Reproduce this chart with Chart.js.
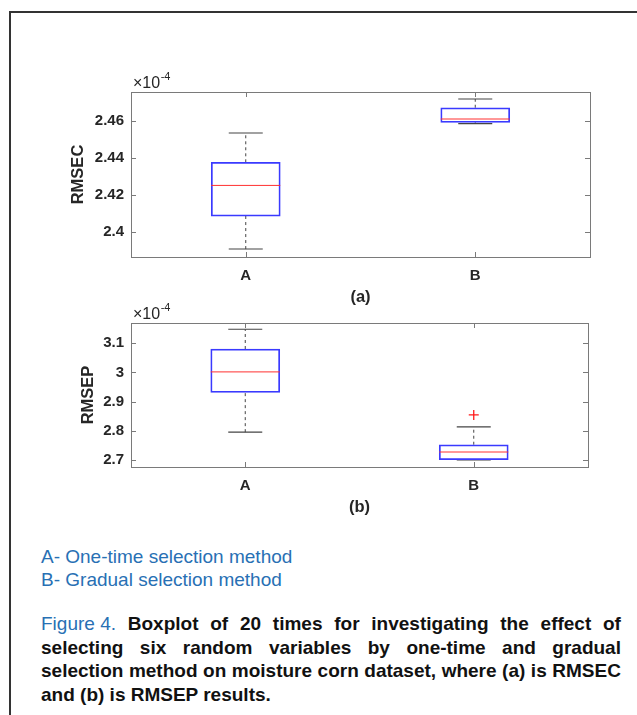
<!DOCTYPE html>
<html>
<head>
<meta charset="utf-8">
<script src="https://cdn.jsdelivr.net/npm/chart.js@4.4.1/dist/chart.umd.min.js"></script>
<style>
  html, body { margin: 0; padding: 0; background: #fff; width: 637px; height: 715px; overflow: hidden;
    font-family: "Liberation Sans", Arial, sans-serif; }
  #frame { position: absolute; left: 9px; top: 11px; width: 700px; height: 800px;
    border-left: 2px solid #333; border-top: 2px solid #333; }
  .wrap { position: absolute; left: 0; width: 637px; }
  #wa { top: 60px; height: 250px; }
  #wb { top: 300px; height: 225px; }
  .line { position: absolute; left: 41px; font-size: 19px; line-height: 23.3px; white-space: nowrap; }
  .legend { color: #2870b4; }
  .cap { width: 580px; display: flex; justify-content: space-between; font-weight: bold; color: #111; }
  .cap .fig { color: #2870b4; font-weight: normal; }
</style>
</head>
<body>
<div id="frame"></div>
<div class="wrap" id="wa"><canvas id="chartA"></canvas></div>
<div class="wrap" id="wb"><canvas id="chartB"></canvas></div>

<div class="line legend" style="top:545px">A- One-time selection method</div>
<div class="line legend" style="top:568px">B- Gradual selection method</div>
<div id="caption"></div>

<script>
// Methods compared
const categories = ['A', 'B'];

// RMSEC box statistics (units of 10^-4)
const rmsecLow  = [2.3908, 2.4586];
const rmsecQ1   = [2.4086, 2.4593];
const rmsecMed  = [2.4252, 2.4611];
const rmsecQ3   = [2.4377, 2.4672];
const rmsecHigh = [2.4535, 2.4719];
const rmsecOutliers = [];
const rmsecTicks = [2.40, 2.42, 2.44, 2.46];

// RMSEP box statistics (units of 10^-4)
const rmsepLow  = [2.7955, 2.7005];
const rmsepQ1   = [2.9320, 2.7010];
const rmsepMed  = [3.0020, 2.7274];
const rmsepQ3   = [3.0805, 2.7524];
const rmsepHigh = [3.1480, 2.8137];
const rmsepOutliers = [{ x: 'B', y: 2.8545 }];
const rmsepTicks = [2.7, 2.8, 2.9, 3.0, 3.1];

const EXPONENT = '-4';

const captionLines = [
  ['Figure 4.', 'Boxplot', 'of', '20', 'times', 'for', 'investigating', 'the', 'effect', 'of'],
  ['selecting', 'six', 'random', 'variables', 'by', 'one-time', 'and', 'gradual'],
  ['selection', 'method', 'on', 'moisture', 'corn', 'dataset,', 'where', '(a)', 'is', 'RMSEC'],
  ['and (b) is RMSEP results.']
];

// Caption: each line justified to the same width
const capTops = [612, 635.5, 659, 682.5];
const capHost = document.getElementById('caption');
captionLines.forEach((words, li) => {
  const div = document.createElement('div');
  div.className = 'line' + (li < 3 ? ' cap' : '');
  div.style.top = capTops[li] + 'px';
  if (li < 3) {
    words.forEach(w => {
      const s = document.createElement('span');
      s.textContent = w;
      if (w === 'Figure 4.') s.className = 'fig';
      div.appendChild(s);
    });
  } else {
    div.style.fontWeight = 'bold';
    div.style.color = '#111';
    div.textContent = words[0];
  }
  capHost.appendChild(div);
});

const FONT = '"Liberation Sans", Arial, sans-serif';
const AXIS_COLOR = '#7a7a7a';
const TEXT_COLOR = '#262626';

// Axis box with inward tick marks and the exponent label above the y axis
const matlabAxes = {
  id: 'matlabAxes',
  afterDraw(chart) {
    const { ctx, chartArea: a, scales: { x, y } } = chart;
    const L = 5;
    ctx.save();
    ctx.strokeStyle = AXIS_COLOR;
    ctx.lineWidth = 1;
    ctx.beginPath();
    y.ticks.forEach(t => {
      const py = Math.round(y.getPixelForValue(t.value)) + 0.5;
      ctx.moveTo(a.left, py); ctx.lineTo(a.left + L, py);
      ctx.moveTo(a.right, py); ctx.lineTo(a.right - L, py);
    });
    x.ticks.forEach((t, i) => {
      const px = Math.round(x.getPixelForTick(i)) + 0.5;
      ctx.moveTo(px, a.bottom); ctx.lineTo(px, a.bottom - L);
      ctx.moveTo(px, a.top); ctx.lineTo(px, a.top + L);
    });
    ctx.stroke();
    ctx.strokeRect(Math.round(a.left) + 0.5, Math.round(a.top) + 0.5,
                   Math.round(a.right - a.left), Math.round(a.bottom - a.top));

    ctx.fillStyle = TEXT_COLOR;
    ctx.textBaseline = 'alphabetic';
    ctx.textAlign = 'left';
    ctx.font = '16px ' + FONT;
    const base = a.top - 4;
    const x0 = a.left + 2;
    ctx.fillText('\u00d710', x0, base);
    const w = ctx.measureText('\u00d710').width;
    ctx.font = '11px ' + FONT;
    ctx.fillText(EXPONENT, x0 + w + 0.5, base - 8);
    ctx.restore();
  }
};

function boxDatasets(low, q1, med, q3, high, outliers) {
  const ds = [];
  ds.push({
    type: 'line', data: med, showLine: false, pointStyle: 'line',
    pointRadius: 34.5, pointBorderColor: '#ff3030', pointBorderWidth: 1, pointHoverRadius: 34.5
  });
  ds.push({
    type: 'bar', data: categories.map((c, i) => [q1[i], q3[i]]),
    backgroundColor: 'rgba(0,0,0,0)', borderColor: '#3a3aff', borderWidth: 1.1,
    borderSkipped: false, barThickness: 69, grouped: false
  });
  categories.forEach((c, i) => {
    ds.push({
      type: 'line', data: [{ x: c, y: q3[i] }, { x: c, y: high[i] }],
      borderColor: '#444', borderWidth: 1, borderDash: [3, 3], pointRadius: 0
    });
    ds.push({
      type: 'line', data: [{ x: c, y: low[i] }, { x: c, y: q1[i] }],
      borderColor: '#444', borderWidth: 1, borderDash: [3, 3], pointRadius: 0
    });
  });
  [high, low].forEach(arr => ds.push({
    type: 'line', data: arr, showLine: false, pointStyle: 'line',
    pointRadius: 17, pointBorderColor: '#444', pointBorderWidth: 1.1
  }));
  if (outliers.length) {
    ds.push({
      type: 'line', data: outliers, showLine: false, pointStyle: 'cross',
      pointRadius: 5, pointBorderColor: '#ff1a1a', pointBorderWidth: 1.3
    });
  }
  return ds;
}

function makeChart(id, cfg) {
  return new Chart(document.getElementById(id), {
    type: 'bar',
    data: { labels: categories, datasets: boxDatasets(...cfg.stats) },
    options: {
      responsive: true,
      maintainAspectRatio: false,
      animation: false,
      events: [],
      layout: { autoPadding: false, padding: { left: 0, top: cfg.padTop, right: cfg.padRight, bottom: 0 } },
      plugins: { legend: { display: false }, tooltip: { enabled: false } },
      scales: {
        x: {
          afterFit: s => { s.height = cfg.xHeight; s.paddingLeft = 0; s.paddingRight = 0; },
          grid: { display: false, drawTicks: false },
          border: { display: false },
          ticks: { padding: 9.5, color: TEXT_COLOR, font: { family: FONT, size: 15, weight: 'bold' } },
          title: {
            display: true, text: cfg.xTitle, color: TEXT_COLOR,
            font: { family: FONT, size: 16.5, weight: 'bold' },
            padding: { top: 0, bottom: cfg.xTitlePad }
          }
        },
        y: {
          min: cfg.yMin, max: cfg.yMax,
          afterBuildTicks: s => { s.ticks = cfg.ticks.map(v => ({ value: v })); },
          afterFit: s => { s.width = 131; s.paddingTop = 0; s.paddingBottom = 0; },
          grid: { display: false, drawTicks: false },
          border: { display: false },
          ticks: {
            padding: 7, color: TEXT_COLOR,
            font: { family: FONT, size: 15, weight: 'bold' },
            callback: v => String(+(+v).toFixed(2))
          },
          title: {
            display: true, text: cfg.yTitle, color: TEXT_COLOR,
            font: { family: FONT, size: 16.5, weight: 'bold' },
            padding: { top: cfg.yTitlePad, bottom: 0 }
          }
        }
      }
    },
    plugins: [matlabAxes]
  });
}

makeChart('chartA', {
  stats: [rmsecLow, rmsecQ1, rmsecMed, rmsecQ3, rmsecHigh, rmsecOutliers],
  ticks: rmsecTicks, yMin: 2.3865, yMax: 2.4757,
  yTitle: 'RMSEC', xTitle: '(a)',
  padTop: 32, padRight: 47, xHeight: 53, xTitlePad: 2.5, yTitlePad: 69
});

makeChart('chartB', {
  stats: [rmsepLow, rmsepQ1, rmsepMed, rmsepQ3, rmsepHigh, rmsepOutliers],
  ticks: rmsepTicks, yMin: 2.676, yMax: 3.1696,
  yTitle: 'RMSEP', xTitle: '(b)',
  padTop: 23, padRight: 49, xHeight: 58, xTitlePad: 7.5, yTitlePad: 79
});
</script>
</body>
</html>
